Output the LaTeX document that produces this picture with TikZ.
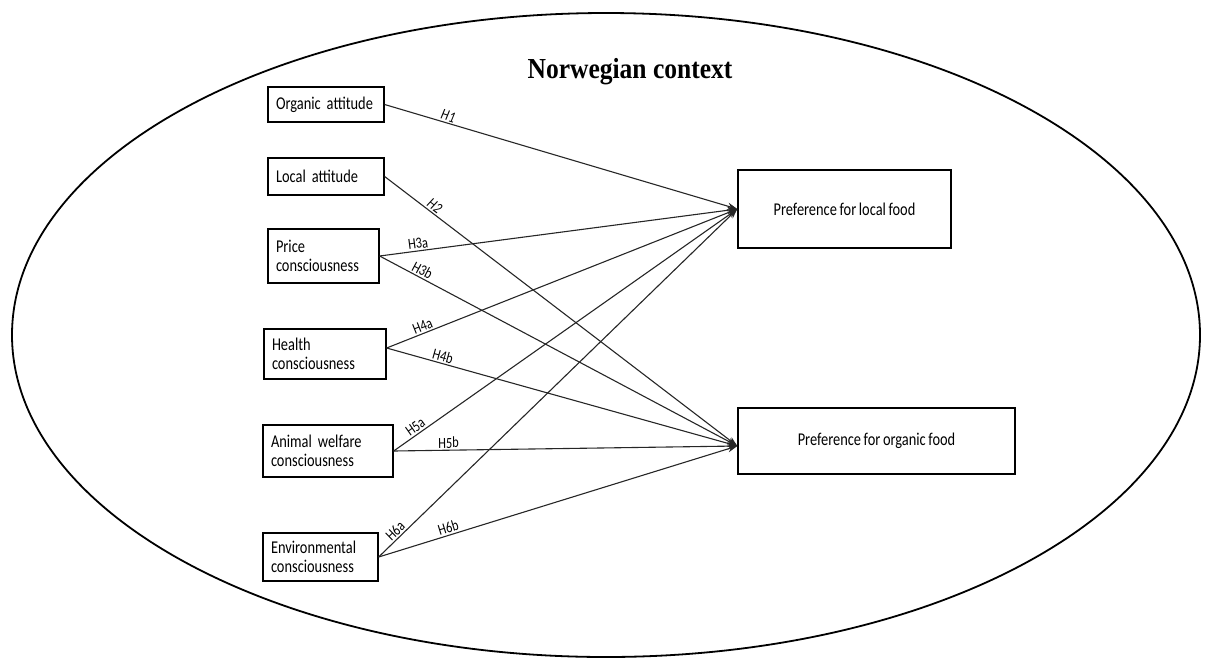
\documentclass[tikz,border=0pt]{standalone}
\usepackage{fontspec}
\setmainfont{Carlito}[FakeStretch=0.8,WordSpace=0.8]
\newfontfamily\titlefont{Liberation Serif}[FakeStretch=0.88]
\usetikzlibrary{arrows.meta}
\begin{document}
\begin{tikzpicture}[x=1pt,y=-1pt,
  lbox/.style={draw, line width=1.3pt, inner xsep=8pt, inner ysep=0pt, align=left,
    font=\fontsize{18}{19}\selectfont},
  rbox/.style={draw, line width=1.3pt, inner sep=0pt, align=center,
    font=\fontsize{18}{19}\selectfont},
  conn/.style={line width=1.1pt, draw=black!85, -{Stealth[length=10pt,width=7pt]}},
  lab/.style={sloped, above, inner sep=1.5pt, font=\fontsize{15.5}{16}\selectfont},
  ilab/.style={lab, font=\fontsize{15.5}{16}\selectfont\itshape}]
\useasboundingbox (0,0) rectangle (1210,657);
\draw[line width=1.8pt] (606,335) ellipse [x radius=594, y radius=322];
\node[font=\titlefont\bfseries\fontsize{29}{32}\selectfont] (title) at (630,72) {Norwegian context};

\node[lbox, minimum width=116pt, minimum height=35pt, text width=100pt] (oa) at (326,104.5) {Organic attitude};
\node[lbox, minimum width=116pt, minimum height=37pt, text width=100pt] (la) at (326,176.5) {Local attitude};
\node[lbox, minimum width=111pt, minimum height=54pt, text width=95pt] (pc) at (323.5,256) {Price\\consciousness};
\node[lbox, minimum width=122pt, minimum height=50pt, text width=106pt] (hc) at (325,354) {Health\\consciousness};
\node[lbox, minimum width=130pt, minimum height=52pt, text width=114pt] (aw) at (328,451) {Animal welfare\\consciousness};
\node[lbox, minimum width=115pt, minimum height=48pt, text width=99pt] (ec) at (320.5,557) {Environmental\\consciousness};

\node[rbox, minimum width=213pt, minimum height=78pt] (plf) at (844.5,209) {Preference for local food};
\node[rbox, minimum width=277pt, minimum height=66pt] (pof) at (876.5,441) {Preference for organic food};

\draw[conn] (oa.east) -- node[ilab, pos=0.175] {H1} (plf.west);
\draw[conn] (la.east) -- node[ilab, pos=0.13] {H2} ([yshift=-5pt]pof.west);
\draw[conn] (pc.east) -- node[lab, pos=0.11] {H3a} (plf.west);
\draw[conn] (pc.east) -- node[lab, pos=0.11] {H3b} ([yshift=-5pt]pof.west);
\draw[conn] ([yshift=6pt]hc.east) -- node[lab, pos=0.11] {H4a} (plf.west);
\draw[conn] ([yshift=6pt]hc.east) -- node[lab, pos=0.155] {H4b} ([yshift=-5pt]pof.west);
\draw[conn] (aw.east) -- node[lab, pos=0.075] {H5a} (plf.west);
\draw[conn] (aw.east) -- node[lab, pos=0.16] {H5b} ([yshift=-5pt]pof.west);
\draw[conn] (ec.east) -- node[lab, pos=0.06] {H6a} (plf.west);
\draw[conn] (ec.east) -- node[lab, pos=0.2] {H6b} ([yshift=-5pt]pof.west);
\end{tikzpicture}
\end{document}
